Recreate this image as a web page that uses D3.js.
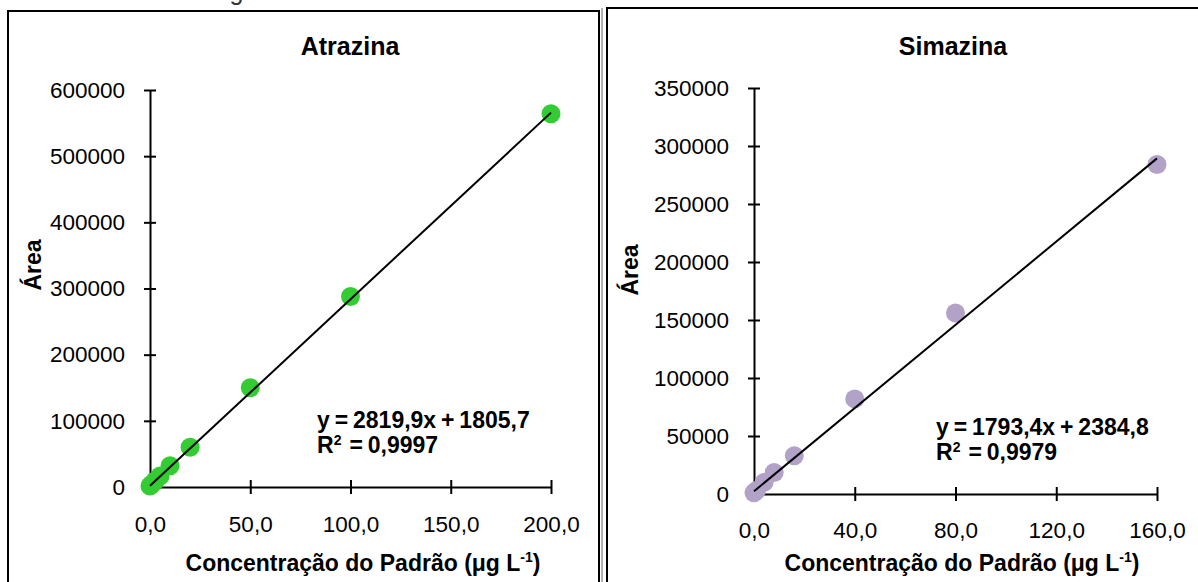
<!DOCTYPE html>
<html>
<head>
<meta charset="utf-8">
<script src="https://cdn.jsdelivr.net/npm/d3@7"></script>
<style>
  body { margin: 0; background: #fff; }
  svg text { font-family: "Liberation Sans", Arial, sans-serif; }
</style>
</head>
<body>
<svg id="chart" width="1198" height="582"></svg>
<script>
// Atrazina
var atraX = [0, 1, 2.5, 5, 10, 20, 50, 100, 200];
var atraY = [1500, 4500, 9000, 16500, 32000, 60000, 150000, 288000, 564000];
var atraTicksX = [0, 50, 100, 150, 200];
var atraTicksY = [0, 100000, 200000, 300000, 400000, 500000, 600000];
var atraFit = [2819.9, 1805.7];

// Simazina
var simaX = [0, 1, 4, 8, 16, 40, 80, 160];
var simaY = [1000, 3000, 10000, 18500, 33000, 82000, 156000, 284000];
var simaTicksX = [0, 40, 80, 120, 160];
var simaTicksY = [0, 50000, 100000, 150000, 200000, 250000, 300000, 350000];
var simaFit = [1793.4, 2384.8];

var svg = d3.select('#chart');

// figure caption, mostly cropped off at the top
svg.append('text')
    .attr('x', 590).attr('y', 0)
    .attr('text-anchor', 'middle')
    .attr('font-size', 25)
    .attr('fill', '#333')
    .text('Figura 6 - Gráficos de linearidade das curvas analíticas do HPLC-UV');

// panel frames
svg.append('rect').attr('x', 8).attr('y', 11).attr('width', 591).attr('height', 580)
    .attr('fill', 'none').attr('stroke', '#000').attr('stroke-width', 2);
svg.append('line').attr('x1', 602).attr('x2', 602).attr('y1', 8).attr('y2', 582)
    .attr('stroke', '#999').attr('stroke-width', 1.5);
svg.append('rect').attr('x', 607).attr('y', 8).attr('width', 600).attr('height', 580)
    .attr('fill', 'none').attr('stroke', '#000').attr('stroke-width', 2);

function draw_panel(p) {
    var g = svg.append('g');
    var x = d3.scaleLinear().domain(p.xDomain).range(p.xRange);
    var y = d3.scaleLinear().domain(p.yDomain).range(p.yRange);

    var commaFmt = function(d) { return d.toFixed(1).replace('.', ','); };

    var yAxis = g.append('g')
        .attr('transform', `translate(${p.xRange[0]},0)`)
        .call(d3.axisLeft(y).tickValues(p.ticksY).tickFormat(d3.format('d'))
            .tickSize(6).tickSizeOuter(0).tickPadding(19));
    yAxis.selectAll('.tick line').attr('x1', 6).attr('x2', -6);

    var xAxis = g.append('g')
        .attr('transform', `translate(0,${p.yRange[0]})`)
        .call(d3.axisBottom(x).tickValues(p.ticksX).tickFormat(commaFmt)
            .tickSize(7).tickSizeOuter(0).tickPadding(p.xPad));
    xAxis.selectAll('.tick line').attr('y1', -7).attr('y2', 7);

    g.selectAll('.domain, .tick line').attr('stroke', '#000').attr('stroke-width', 2);
    g.selectAll('.tick text')
        .attr('font-family', '"Liberation Sans", Arial, sans-serif')
        .attr('font-size', 22.5).attr('fill', '#000');

    // points
    var pts = p.xs.map(function(v, i) { return [v, p.ys[i]]; });
    g.append('g').selectAll('circle')
        .data(pts).enter().append('circle')
        .attr('cx', d => x(d[0]))
        .attr('cy', d => y(d[1]))
        .attr('r', 9.5)
        .attr('fill', p.color);

    // linear trendline
    var x0 = d3.min(p.xs), x1 = d3.max(p.xs);
    g.append('line')
        .attr('x1', x(x0)).attr('y1', y(p.fit[0] * x0 + p.fit[1]))
        .attr('x2', x(x1)).attr('y2', y(p.fit[0] * x1 + p.fit[1]))
        .attr('stroke', '#000').attr('stroke-width', 2);

    // titles
    g.append('text')
        .attr('x', p.titleX).attr('y', 55)
        .attr('text-anchor', 'middle')
        .attr('font-size', 25).attr('font-weight', 'bold')
        .text(p.title);

    var xt = g.append('text')
        .attr('x', p.xTitleX).attr('y', 571)
        .attr('text-anchor', 'middle')
        .attr('font-size', 23).attr('font-weight', 'bold');
    xt.append('tspan').text('Concentração do Padrão (μg L');
    xt.append('tspan').attr('dy', -9).attr('font-size', 14).text('-1');
    xt.append('tspan').attr('dy', 9).text(')');

    g.append('text')
        .attr('transform', `translate(${p.yTitleX},${p.yTitleY}) rotate(-90)`)
        .attr('text-anchor', 'middle')
        .attr('font-size', 23).attr('font-weight', 'bold')
        .text('Área');

    // equation
    var eq = g.append('text')
        .attr('x', p.eqX).attr('y', p.eqY)
        .attr('font-size', 23).attr('font-weight', 'bold')
        .attr('word-spacing', -1.5);
    eq.append('tspan').text(p.eqText);
    var r2 = eq.append('tspan').attr('x', p.eqX).attr('dy', 25);
    r2.append('tspan').text('R');
    r2.append('tspan').attr('dy', -8).attr('font-size', 14).text('2');
    r2.append('tspan').attr('dy', 8).attr('dx', 8).text('= ' + p.r2Text);
}

draw_panel({
    title: 'Atrazina', titleX: 350,
    xs: atraX, ys: atraY, fit: atraFit, color: '#33cc33',
    xDomain: [0, 200], xRange: [150, 551],
    yDomain: [0, 600000], yRange: [487, 90],
    ticksX: atraTicksX, ticksY: atraTicksY, xPad: 22,
    xTitleX: 363, yTitleX: 41, yTitleY: 265,
    eqX: 317, eqY: 428,
    eqText: 'y = 2819,9x + 1805,7', r2Text: '0,9997'
});

draw_panel({
    title: 'Simazina', titleX: 953,
    xs: simaX, ys: simaY, fit: simaFit, color: '#b3a2c7',
    xDomain: [0, 160], xRange: [754, 1157],
    yDomain: [0, 350000], yRange: [494, 88],
    ticksX: simaTicksX, ticksY: simaTicksY, xPad: 21,
    xTitleX: 962, yTitleX: 638, yTitleY: 270,
    eqX: 936, eqY: 435,
    eqText: 'y = 1793,4x + 2384,8', r2Text: '0,9979'
});
</script>
</body>
</html>
